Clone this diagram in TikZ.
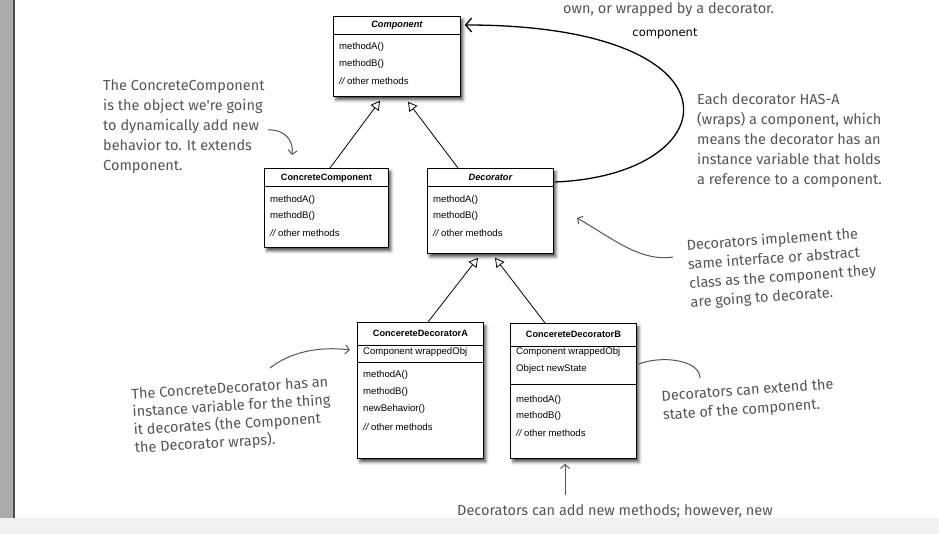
\documentclass[tikz,border=0pt]{standalone}
\usepackage{fontspec}
\setmainfont{Liberation Sans}
\newfontfamily\handfont{Fira Sans}
\newfontfamily\labelfont{DejaVu Sans}
\usetikzlibrary{arrows.meta, positioning, calc, shadows.blur}
\definecolor{inkgray}{HTML}{545454}
\definecolor{stripgray}{HTML}{ABABAB}
\definecolor{bargray}{HTML}{F0F0F0}

\begin{document}
\begin{tikzpicture}[x=1pt, y=-1pt,
  umlbox/.style={rectangle, draw, line width=0.8pt, fill=white, anchor=north west, inner sep=0pt,
    blur shadow={shadow xshift=2.5pt, shadow yshift=-3.5pt, shadow blur radius=3pt, shadow opacity=70}},
  title/.style={font=\fontsize{9.2}{11}\bfseries\selectfont, inner sep=0pt},
  member/.style={font=\fontsize{9.6}{11}\selectfont, anchor=west, inner sep=0pt},
  sepline/.style={line width=0.6pt},
  inherit/.style={line width=0.8pt, -{Triangle[open, length=9pt, width=10pt, line width=0.8pt]}},
  note/.style={font=\handfont\fontsize{14.5}{20}\selectfont, text=inkgray, align=left, anchor=north west, inner sep=0pt},
  pointer/.style={draw=inkgray, line width=1pt, -{Straight Barb[length=4pt, width=9pt]}}
]
  \useasboundingbox (0,0) rectangle (939,534);

  % window frame
  \fill[stripgray] (0,0) rectangle (13,518);
  \draw[black!70, line width=1.5pt] (14,0) -- (14,518);

  % Component
  \node[umlbox, minimum width=127pt, minimum height=80pt] (comp) at (333,16) {};
  \node[title] (comptitle) at ($(comp.north)+(0,9)$) {\itshape Component};
  \draw[sepline] ($(comp.north west)+(0,18)$) -- ($(comp.north east)+(0,18)$);
  \node[member] (compma) at ($(comp.north west)+(6,31)$) {methodA()};
  \node[member] (compmb) at ($(comp.north west)+(6,48)$) {methodB()};
  \node[member] (compmo) at ($(comp.north west)+(6,65)$) {{\itshape //} other methods};

  % ConcreteComponent
  \node[umlbox, minimum width=124pt, minimum height=79pt] (conc) at (264,168) {};
  \node[title] (conctitle) at ($(conc.north)+(0,10)$) {ConcreteComponent};
  \draw[sepline] ($(conc.north west)+(0,18)$) -- ($(conc.north east)+(0,18)$);
  \node[member] (concma) at ($(conc.north west)+(6,32)$) {methodA()};
  \node[member] (concmb) at ($(conc.north west)+(6,48)$) {methodB()};
  \node[member] (concmo) at ($(conc.north west)+(6,65)$) {{\itshape //} other methods};

  % Decorator
  \node[umlbox, minimum width=126pt, minimum height=85pt] (deco) at (427,168) {};
  \node[title] (decotitle) at ($(deco.north)+(0,9.5)$) {\itshape Decorator};
  \draw[sepline] ($(deco.north west)+(0,18.5)$) -- ($(deco.north east)+(0,18.5)$);
  \node[member] (decoma) at ($(deco.north west)+(6,32)$) {methodA()};
  \node[member] (decomb) at ($(deco.north west)+(6,48)$) {methodB()};
  \node[member] (decomo) at ($(deco.north west)+(6,65)$) {{\itshape //} other methods};

  % ConcereteDecoratorA
  \node[umlbox, minimum width=126pt, minimum height=136pt] (deca) at (357,322) {};
  \node[title] (decatitle) at ($(deca.north)+(0,11)$) {ConcereteDecoratorA};
  \draw[sepline] ($(deca.north west)+(0,23)$) -- ($(deca.north east)+(0,23)$);
  \node[member] (decaw) at ($(deca.north west)+(6,30)$) {Component wrappedObj};
  \draw[sepline] ($(deca.north west)+(0,40)$) -- ($(deca.north east)+(0,40)$);
  \node[member] (decama) at ($(deca.north west)+(6,53)$) {methodA()};
  \node[member] (decamb) at ($(deca.north west)+(6,70)$) {methodB()};
  \node[member] (decanb) at ($(deca.north west)+(6,87)$) {newBehavior()};
  \node[member] (decamo) at ($(deca.north west)+(6,105)$) {{\itshape //} other methods};

  % ConcereteDecoratorB
  \node[umlbox, minimum width=126pt, minimum height=135pt] (decb) at (510,323) {};
  \node[title] (decbtitle) at ($(decb.north)+(0,11)$) {ConcereteDecoratorB};
  \draw[sepline] ($(decb.north west)+(0,23)$) -- ($(decb.north east)+(0,23)$);
  \node[member] (decbw) at ($(decb.north west)+(6,29)$) {Component wrappedObj};
  \node[member] (decbs) at ($(decb.north west)+(6,46)$) {Object newState};
  \draw[sepline] ($(decb.north west)+(0,61)$) -- ($(decb.north east)+(0,61)$);
  \node[member] (decbma) at ($(decb.north west)+(6,77)$) {methodA()};
  \node[member] (decbmb) at ($(decb.north west)+(6,93)$) {methodB()};
  \node[member] (decbmo) at ($(decb.north west)+(6,110)$) {{\itshape //} other methods};

  % inheritance
  \draw[inherit] ($(conc.north west)+(66,0)$) -- ($(comp.south west)+(47,4)$);
  \draw[inherit] ($(deco.north west)+(31,0)$) -- ($(comp.south west)+(75,5)$);
  \draw[inherit] ($(deca.north west)+(71,0)$) -- ($(deco.south west)+(51,4)$);
  \draw[inherit] ($(decb.north west)+(35,0)$) -- ($(deco.south west)+(68,4)$);

  % HAS-A
  \draw[line width=1.3pt, -{Straight Barb[length=6pt, width=14pt, line width=1.3pt]}]
    ($(deco.north east)+(1,14)$) .. controls (730,175) and (750,25) .. ($(comp.north east)+(4,9)$);
  \node[font=\labelfont\fontsize{11.5}{13}\selectfont, inner sep=0pt] (wraplabel) at (665,34) {component};

  % notes
  \node[note, anchor=base west] (topnote) at (563,14) {own, or wrapped by a decorator.};
  \node[note] (concnote) at (103,79) {The ConcreteComponent\\is the object we're going\\to dynamically add new\\behavior to. It extends\\Component.};
  \node[note] (hasanote) at (697,93) {Each decorator HAS-A\\(wraps) a component, which\\means the decorator has an\\instance variable that holds\\a reference to a component.};
  \node[note, rotate=4, font=\handfont\fontsize{14.5}{19}\selectfont] (samenote) at (686,239) {Decorators implement the\\same interface or abstract\\class as the component they\\are going to decorate.};
  \node[note, rotate=4, font=\handfont\fontsize{14.5}{19}\selectfont] (statenote) at (661,390) {Decorators can extend the\\state of the component.};
  \node[note, rotate=3.5, font=\handfont\fontsize{14.5}{18}\selectfont] (wrapnote) at (131,388) {The ConcreteDecorator has an\\instance variable for the thing\\it decorates (the Component\\the Decorator wraps).};
  \node[note, anchor=base west] (methnote) at (457,515) {Decorators can add new methods; however, new};

  % note pointers
  \coordinate (concto) at (292,155);
  \coordinate (sameto) at (577,218);
  \coordinate (stateto) at (700,378);
  \coordinate (wrapfrom) at (270,368);
  \coordinate (methfrom) at (565,495);
  \draw[pointer] (268,130) .. controls (284,129) and (294,140) .. (concto);
  \draw[pointer] (673,257) .. controls (640,262) and (612,238) .. (sameto);
  \draw[draw=inkgray, line width=1pt] ($(decb.north east)+(2,41)$) .. controls (662,355) and (700,360) .. (stateto);
  \draw[pointer] (wrapfrom) .. controls (290,352) and (320,346) .. ($(deca.north west)+(-7,28)$);
  \draw[pointer] (methfrom) -- ($(decb.south west)+(55,5)$);

  % viewer toolbar
  \fill[bargray] (0,518) rectangle (939,534);
\end{tikzpicture}
\end{document}
